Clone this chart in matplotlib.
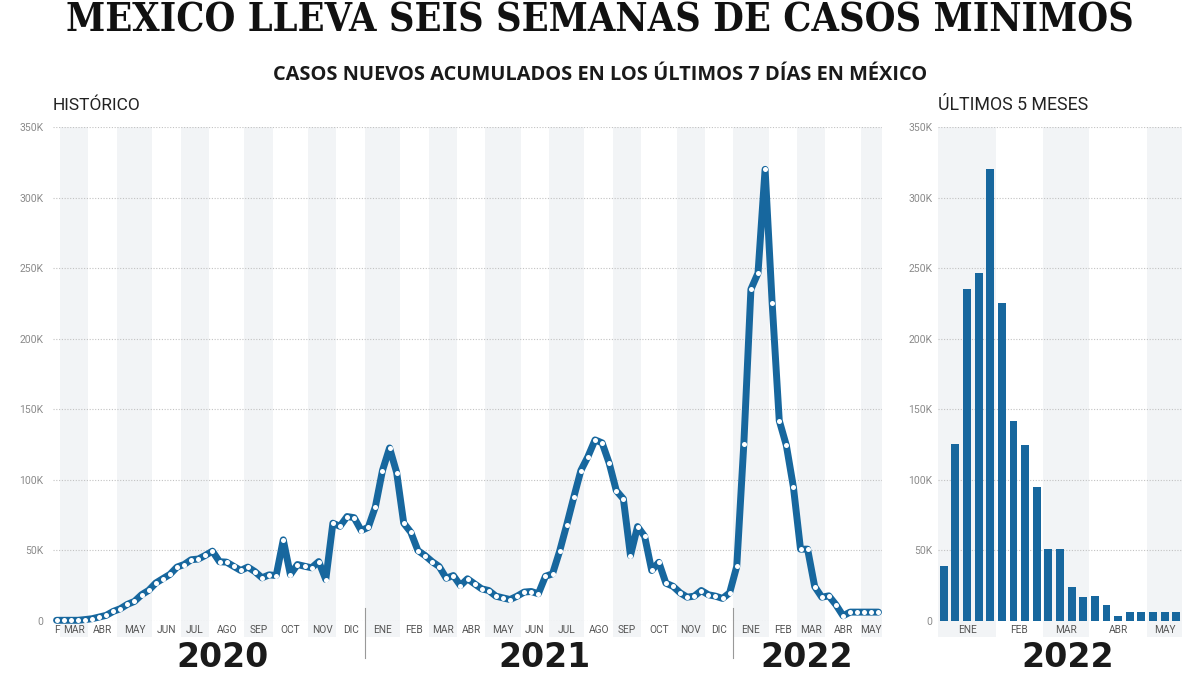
import matplotlib
matplotlib.use("Agg")
import matplotlib.pyplot as plt
import matplotlib.transforms as mtransforms
import numpy as np

# casos nuevos acumulados 7 dias (miles), semanal
casos_2020_2021 = [
    0.5, 0.5, 0.5, 0.5, 1.0, 1.6, 2.8, 4.0, 6.8, 8.7,
    11.8, 13.9, 18.6, 21.7, 26.9, 30.0, 33.0, 38.2, 40.0, 43.4,
    43.9, 46.5, 49.5, 42.0, 41.7, 38.7, 35.8, 38.2, 35.0, 30.6,
    32.7, 32.2, 57.5, 32.9, 40.0, 38.8, 37.7, 42.1, 29.4, 69.3,
    67.1, 74.0, 73.2, 64.1, 66.4, 81.0, 106.6, 122.6, 105.2, 69.3,
    62.9, 49.9, 46.4, 42.1, 38.6, 30.3, 32.2, 25.1, 29.9, 26.3,
    22.8, 21.6, 17.6, 16.4, 15.2, 17.6, 20.5, 20.9, 19.3, 31.7,
    33.4, 49.4, 68.1, 87.7, 106.6, 116.5, 128.3, 126.2, 111.8, 92.4,
    86.5, 46.4, 66.9, 60.0, 35.8, 41.6, 26.8, 24.6, 20.0, 16.9,
    17.6, 21.6, 18.6, 17.6, 16.0, 20.0,
]
casos_2022 = [
    38.7, 125.6, 235.0, 246.5, 320.0, 225.0, 142.0, 124.4, 94.8, 50.9,
    50.9, 24.4, 16.9, 17.8, 11.5, 3.7, 6.3, 6.3, 6.3, 6.3, 6.3,
]

meses = ["F", "MAR", "ABR", "MAY", "JUN", "JUL", "AGO", "SEP", "OCT", "NOV", "DIC",
         "ENE", "FEB", "MAR", "ABR", "MAY", "JUN", "JUL", "AGO", "SEP", "OCT", "NOV", "DIC",
         "ENE", "FEB", "MAR", "ABR", "MAY"]
semanas_mes = [1, 4, 4, 5, 4, 4, 5, 4, 5, 4, 4,
               5, 4, 4, 4, 5, 4, 5, 4, 4, 5, 4, 4,
               5, 4, 4, 5, 3]
meses_2022 = ["ENE", "FEB", "MAR", "ABR", "MAY"]
semanas_2022 = [5, 4, 4, 5, 3]
anios = ["2020", "2021", "2022"]
semanas_anio = [44, 52, 21]

BLUE = "#17679e"
BAND = "#f2f4f6"
GRID = "#c2c2c2"
plt.rcParams["font.family"] = ["Roboto", "DejaVu Sans"]

fig = plt.figure(figsize=(12, 6.75), dpi=100)
W, H = 1200, 675
ax = fig.add_axes([53 / W, 54 / H, 829 / W, 494 / H])
ax2 = fig.add_axes([938 / W, 54 / H, 244 / W, 494 / H])


def style_axis(a):
    a.set_ylim(0, 350000)
    a.set_yticks(np.arange(0, 350001, 50000))
    a.set_yticklabels(["0"] + [f"{v}K" for v in range(50, 351, 50)])
    for s in a.spines.values():
        s.set_visible(False)
    a.grid(axis="y", ls=(0, (1, 1.5)), color=GRID, lw=0.8)
    a.set_axisbelow(True)
    a.tick_params(axis="y", length=0, pad=7, labelsize=7.5, labelcolor="#8a8a8a")
    a.tick_params(axis="x", length=0, pad=3, labelsize=7.3, labelcolor="#555555")


def bands(a, counts, labels, shade_odd):
    edges = np.cumsum([0] + counts) - 0.5
    for i in range(len(counts)):
        if (i % 2 == 1) == shade_odd:
            a.axvspan(edges[i], edges[i + 1], ymin=-0.033, ymax=1, color=BAND,
                      lw=0, zorder=0, clip_on=False)
    a.set_xticks((edges[:-1] + edges[1:]) / 2)
    a.set_xticklabels(labels)
    a.set_xlim(edges[0], edges[-1])


# historico
style_axis(ax)
bands(ax, semanas_mes, meses, True)
serie = np.array(casos_2020_2021 + casos_2022) * 1000
ax.plot(np.arange(len(serie)), serie, color=BLUE, lw=5, solid_joinstyle="round",
        solid_capstyle="round", marker="o", ms=3.6, mfc="white", mec="white", mew=0,
        clip_on=False, zorder=3)

trans = mtransforms.blended_transform_factory(ax.transData, ax.transAxes)
limites = np.cumsum(semanas_anio) - 0.5
for xb in limites[:-1]:
    ax.plot([xb, xb], [0.026, -0.075], color="#999999", lw=0.8, transform=trans,
            clip_on=False)
centros_anio = [23.4, 68.9, 105.9]
y_anio = (621 - 667) / 494
year_txt = []
for xc, lab in zip(centros_anio, anios):
    year_txt.append(ax.text(xc, y_anio, lab, transform=trans, ha="center",
                            va="baseline", fontsize=22, fontweight="bold",
                            family=["DejaVu Sans"], color="#1a1a1a"))

# ultimos 5 meses
style_axis(ax2)
bands(ax2, semanas_2022, meses_2022, False)
ax2.bar(np.arange(len(casos_2022)), np.array(casos_2022) * 1000, width=0.68,
        color=BLUE, zorder=3)
ax2.tick_params(axis="y", pad=4)
trans2 = mtransforms.blended_transform_factory(ax2.transData, ax2.transAxes)
year_txt.append(ax2.text(10.7, y_anio, "2022", transform=trans2, ha="center",
                         va="baseline", fontsize=22, fontweight="bold",
                         family=["DejaVu Sans"], color="#1a1a1a"))

# textos
title = fig.text(0.5, 1 - 21 / H, "MÉXICO LLEVA SEIS SEMANAS DE CASOS MÍNIMOS",
                 ha="center", va="center", fontsize=30, fontweight="bold",
                 family=["DejaVu Serif"], fontstretch="condensed", color="#111111")
sub = fig.text(0.5, 1 - 75 / H, "CASOS NUEVOS ACUMULADOS EN LOS ÚLTIMOS 7 DÍAS EN MÉXICO",
               ha="center", va="center", fontsize=13, fontweight="bold",
               family=["Open Sans", "DejaVu Sans"], color="#1a1a1a")
h1 = fig.text(53 / W, 1 - 105 / H, "HISTÓRICO", ha="left", va="center", fontsize=11,
              color="#222222")
h2 = fig.text(938 / W, 1 - 105 / H, "ÚLTIMOS 5 MESES", ha="left", va="center",
              fontsize=11, color="#222222")

renderer = fig.canvas.get_renderer()


def fit(t, target):
    w = t.get_window_extent(renderer).width
    t.set_fontsize(t.get_fontsize() * target / w)


fit(title, 1070)
fit(sub, 654)
fit(h1, 88)
fit(h2, 149)
for t in year_txt:
    fit(t, 92)

fig.savefig("out.png", dpi=100, facecolor="white")
